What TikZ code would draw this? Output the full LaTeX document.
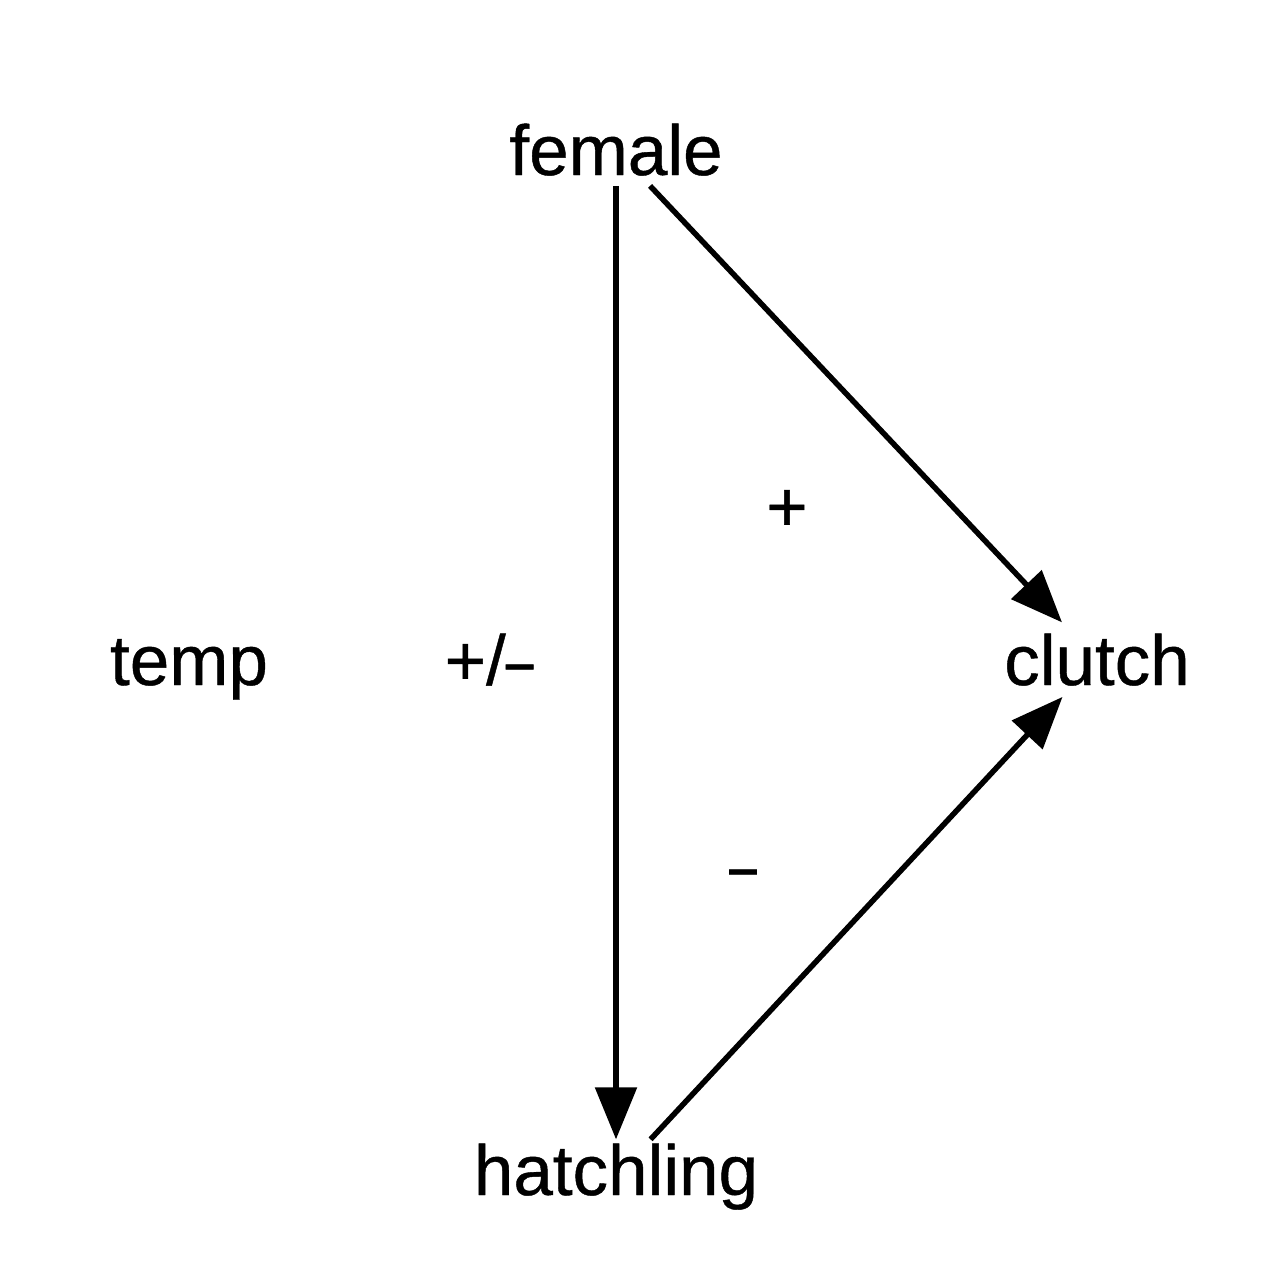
\documentclass[tikz,border=0pt]{standalone}
\usepackage{fontspec}
\usepackage{graphicx}
\setmainfont{Liberation Sans}[FakeBold=0.6]
\usetikzlibrary{arrows.meta}
\begin{document}
\begin{tikzpicture}[x=1pt,y=-1pt,
  lbl/.style={anchor=base,font=\fontsize{71}{85}\selectfont,inner xsep=4pt},
  arr/.style={line width=5.5pt,-{Triangle[length=52pt,width=41pt]}}]
\useasboundingbox[fill=white] (0,0) rectangle (1280,1280);
\node[lbl,inner ysep=10pt] (female) at (616,175) {female};
\node[lbl,inner ysep=11pt] (clutch) at (1097,685) {clutch};
\node[lbl,inner ysep=4pt] (hatchling) at (616,1195) {hatchling};
\node[lbl] (temp) at (189,685) {temp};
\node[lbl] (pm) at (489,685) {+/\scalebox{0.7}[1]{–}};
\node[lbl] (plus) at (787,531) {+};
\node[lbl] (minus) at (743,890) {\scalebox{0.7}[1]{–}};
\draw[arr] (female) -- (hatchling);
\draw[arr] (female) -- (clutch);
\draw[arr] (hatchling) -- (clutch);
\end{tikzpicture}
\end{document}
